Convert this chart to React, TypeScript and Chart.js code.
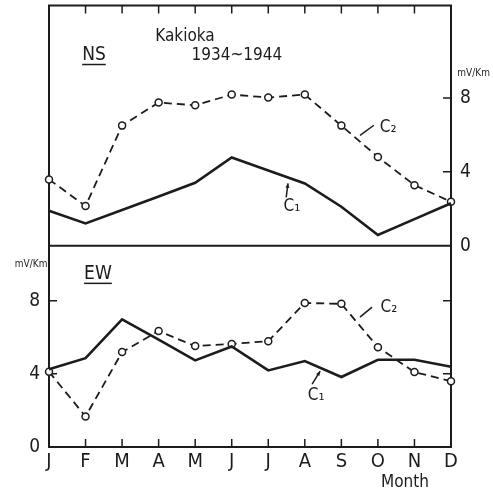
import React, { useEffect, useRef } from "react";
import { Chart, registerables } from "chart.js";

Chart.register(...registerables);

// ---- data ----
const months = ["J", "F", "M", "A", "M", "J", "J", "A", "S", "O", "N", "D"];
const nsC1 = [1.89, 1.21, 1.93, 2.66, 3.41, 4.78, 4.07, 3.37, 2.11, 0.58, 1.44, 2.3];
const nsC2 = [3.59, 2.15, 6.5, 7.75, 7.6, 8.18, 8.02, 8.18, 6.5, 4.8, 3.28, 2.38];
const ewC1 = [4.25, 4.86, 6.98, 5.87, 4.74, 5.5, 4.19, 4.7, 3.83, 4.77, 4.77, 4.39];
const ewC2 = [4.12, 1.67, 5.19, 6.34, 5.52, 5.64, 5.79, 7.88, 7.83, 5.46, 4.1, 3.6];
const axisTicks = [0, 4, 8];

const FONT = '"DejaVu Sans Condensed", "DejaVu Sans", sans-serif';
const INK = "#1c1c1c";

const zeroPad = (s: any) => {
  s.paddingTop = 0;
  s.paddingBottom = 0;
  s.paddingLeft = 0;
  s.paddingRight = 0;
};

export default function App() {
  const ref = useRef<HTMLCanvasElement>(null);

  useEffect(() => {
    const canvas = ref.current!;

    const framePlugin = {
      id: "frame",
      beforeDatasetsDraw(chart: any) {
        const { ctx, chartArea: a, scales } = chart;
        const x = scales.x, yt = scales.yTop, yb = scales.yBot;
        ctx.save();
        ctx.strokeStyle = INK;
        ctx.lineWidth = 2;
        ctx.strokeRect(a.left, a.top, a.right - a.left, a.bottom - a.top);
        const mid = yt.getPixelForValue(0);
        ctx.beginPath();
        ctx.moveTo(a.left, mid);
        ctx.lineTo(a.right, mid);
        ctx.stroke();
        ctx.lineWidth = 1.5;
        ctx.beginPath();
        months.forEach((_, i) => {
          if (i === 0 || i === months.length - 1) return;
          const px = x.getPixelForValue(i);
          ctx.moveTo(px, a.top);
          ctx.lineTo(px, a.top + 8);
          ctx.moveTo(px, a.bottom);
          ctx.lineTo(px, a.bottom - 8);
        });
        axisTicks.filter((v) => v > 0).forEach((v) => {
          const pt = yt.getPixelForValue(v);
          ctx.moveTo(a.right, pt);
          ctx.lineTo(a.right - 8, pt);
          const pb = yb.getPixelForValue(v);
          ctx.moveTo(a.left, pb);
          ctx.lineTo(a.left + 8, pb);
          ctx.moveTo(a.right, pb);
          ctx.lineTo(a.right - 8, pb);
        });
        ctx.stroke();
        ctx.restore();
      },
    };

    const textPlugin = {
      id: "texts",
      afterDatasetsDraw(chart: any) {
        const { ctx, scales } = chart;
        const x = scales.x, yt = scales.yTop, yb = scales.yBot;
        const P = (xi: number, v: number, top: boolean) => [
          x.getPixelForValue(xi),
          (top ? yt : yb).getPixelForValue(v),
        ];
        ctx.save();
        ctx.fillStyle = INK;
        ctx.strokeStyle = INK;
        ctx.textAlign = "center";
        ctx.textBaseline = "middle";
        const text = (s: string, xi: number, v: number, top: boolean, size: number, underline = false) => {
          const [px, py] = P(xi, v, top);
          ctx.font = `${size}px ${FONT}`;
          ctx.fillText(s, px, py);
          if (underline) {
            const w = ctx.measureText(s).width;
            ctx.lineWidth = 1.5;
            ctx.beginPath();
            ctx.moveTo(px - w / 2, py + size * 0.48);
            ctx.lineTo(px + w / 2, py + size * 0.48);
            ctx.stroke();
          }
        };
        const line = (x1: number, v1: number, x2: number, v2: number, top: boolean, arrow = false) => {
          const [a1, b1] = P(x1, v1, top);
          const [a2, b2] = P(x2, v2, top);
          ctx.lineWidth = 1.5;
          ctx.beginPath();
          ctx.moveTo(a1, b1);
          ctx.lineTo(a2, b2);
          ctx.stroke();
          if (arrow) {
            const ang = Math.atan2(b2 - b1, a2 - a1);
            ctx.beginPath();
            ctx.moveTo(a2, b2);
            ctx.lineTo(a2 - 5 * Math.cos(ang - 0.4), b2 - 5 * Math.sin(ang - 0.4));
            ctx.lineTo(a2 - 5 * Math.cos(ang + 0.4), b2 - 5 * Math.sin(ang + 0.4));
            ctx.closePath();
            ctx.fill();
          }
        };
        // top panel
        text("Kakioka", 3.72, 11.32, true, 17);
        text("1934~1944", 5.14, 10.3, true, 17);
        text("NS", 1.23, 10.3, true, 19, true);
        text("C₂", 9.28, 6.41, true, 17);
        line(8.51, 5.97, 8.89, 6.52, true);
        text("C₁", 6.65, 2.14, true, 17);
        line(6.49, 2.62, 6.54, 3.38, true, true);
        text("mV/Km", 11.62, 9.34, true, 10);
        // bottom panel
        text("EW", 1.34, 9.45, false, 19, true);
        text("mV/Km", -0.49, 10.0, false, 10);
        text("C₂", 9.3, 7.65, false, 17);
        line(8.51, 7.1, 8.84, 7.65, false);
        text("C₁", 7.31, 2.79, false, 17);
        line(7.2, 3.44, 7.42, 4.15, false, true);
        text("Month", 9.74, -1.97, false, 17);
        ctx.restore();
      },
    };

    const chart = new Chart(canvas, {
      type: "line",
      data: {
        labels: months,
        datasets: [
          {
            label: "NS C1",
            data: nsC1,
            yAxisID: "yTop",
            borderColor: INK,
            borderWidth: 2.6,
            pointRadius: 0,
            tension: 0,
            clip: false as any,
          },
          {
            label: "NS C2",
            data: nsC2,
            yAxisID: "yTop",
            borderColor: INK,
            borderWidth: 1.8,
            borderDash: [8, 5],
            pointRadius: 3.5,
            pointBackgroundColor: "#ffffff",
            pointBorderColor: INK,
            pointBorderWidth: 1.5,
            tension: 0,
            clip: false as any,
          },
          {
            label: "EW C1",
            data: ewC1,
            yAxisID: "yBot",
            borderColor: INK,
            borderWidth: 2.6,
            pointRadius: 0,
            tension: 0,
            clip: false as any,
          },
          {
            label: "EW C2",
            data: ewC2,
            yAxisID: "yBot",
            borderColor: INK,
            borderWidth: 1.8,
            borderDash: [8, 5],
            pointRadius: 3.5,
            pointBackgroundColor: "#ffffff",
            pointBorderColor: INK,
            pointBorderWidth: 1.5,
            tension: 0,
            clip: false as any,
          },
        ],
      },
      options: {
        responsive: false,
        animation: false,
        events: [],
        layout: { padding: { top: 5, left: 0, right: 0, bottom: 0 } },
        plugins: { legend: { display: false }, tooltip: { enabled: false }, title: { display: false } },
        scales: {
          x: {
            type: "category",
            offset: false,
            grid: { display: false, drawTicks: false },
            border: { display: false },
            ticks: { color: INK, font: { family: FONT, size: 20 }, padding: 3, maxRotation: 0, autoSkip: false },
            afterFit: (s: any) => { s.height = 48; zeroPad(s); },
          },
          yTop: {
            position: "right",
            min: -10.89,
            max: 13.0,
            grid: { display: false, drawTicks: false },
            border: { display: false },
            ticks: { color: INK, font: { family: FONT, size: 19 }, padding: 9 },
            afterBuildTicks: (s: any) => { s.ticks = axisTicks.map((v) => ({ value: v })); },
            afterFit: (s: any) => { s.width = 42; zeroPad(s); },
          },
          yBot: {
            position: "left",
            min: 0,
            max: 24.15,
            grid: { display: false, drawTicks: false },
            border: { display: false },
            ticks: { color: INK, font: { family: FONT, size: 19 }, padding: 9 },
            afterBuildTicks: (s: any) => { s.ticks = axisTicks.map((v) => ({ value: v })); },
            afterFit: (s: any) => { s.width = 49; zeroPad(s); },
          },
        },
      },
      plugins: [framePlugin, textPlugin],
    });

    return () => chart.destroy();
  }, []);

  return (
    <div style={{ position: "absolute", left: 0, top: 0, width: 493, height: 495, background: "#fff" }}>
      <canvas ref={ref} width={493} height={495} style={{ display: "block" }} />
    </div>
  );
}
